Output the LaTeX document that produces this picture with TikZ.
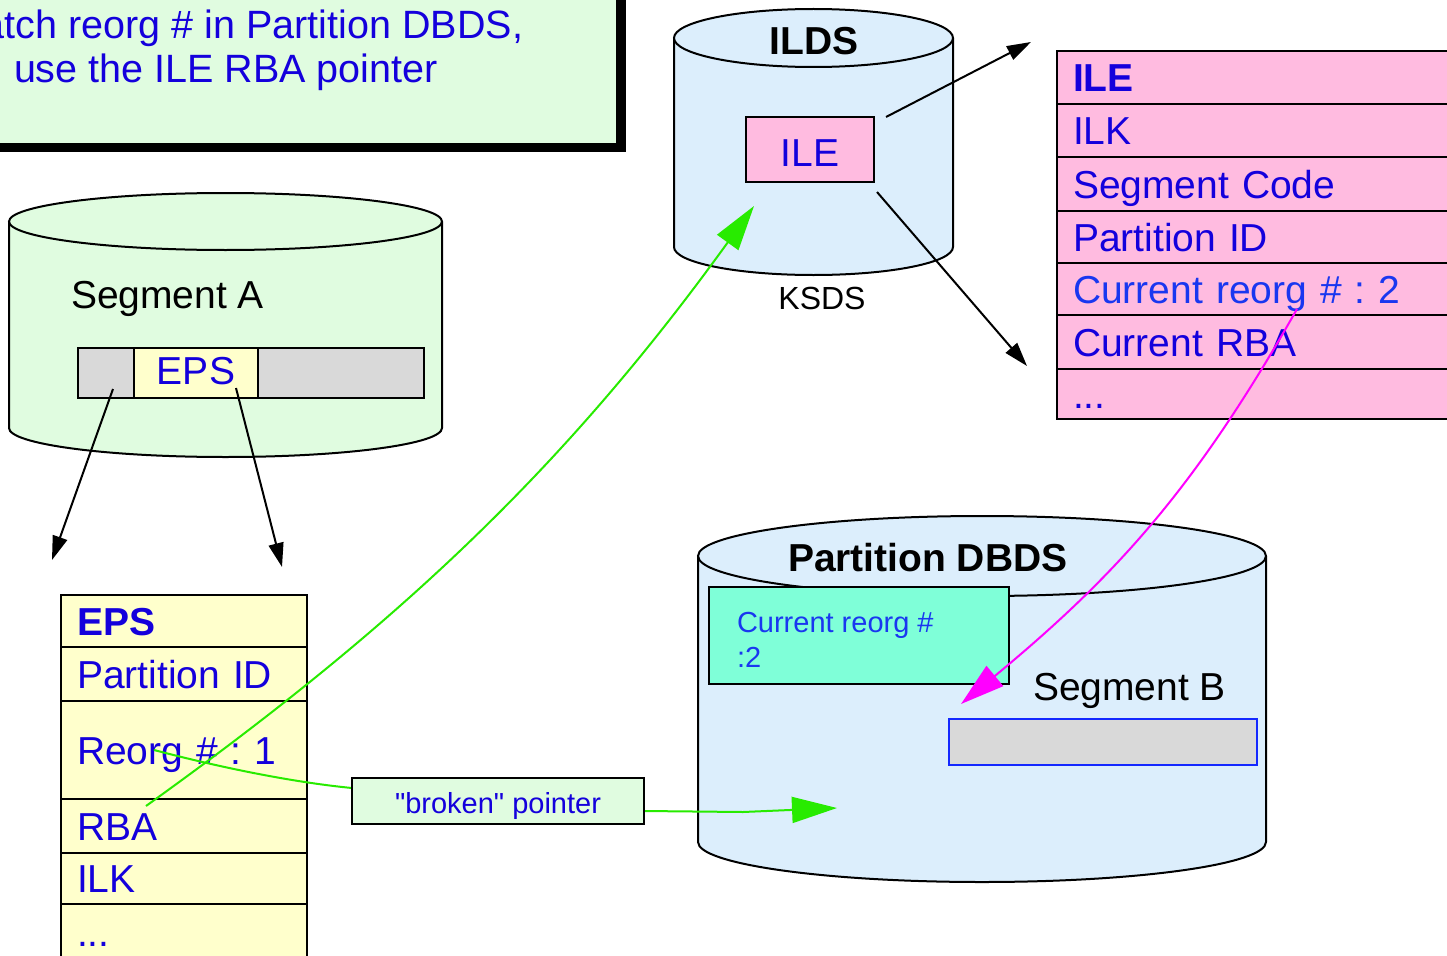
\documentclass[tikz,border=0pt]{standalone}
\usepackage{fontspec}
\setmainfont{Liberation Sans}[Ligatures=TeXOff]
\usetikzlibrary{arrows.meta}
\definecolor{lgreen}{RGB}{224,252,224}
\definecolor{lblue}{RGB}{220,238,252}
\definecolor{lpink}{RGB}{255,187,224}
\definecolor{lyellow}{RGB}{255,255,204}
\definecolor{lgray}{RGB}{217,217,217}
\definecolor{aqua}{RGB}{127,255,216}
\definecolor{tblue}{RGB}{20,0,220}
\definecolor{tblue2}{RGB}{25,55,240}
\definecolor{pgreen}{RGB}{40,235,0}
\definecolor{pmag}{RGB}{255,0,255}
\definecolor{bblue}{RGB}{20,40,255}
\newcommand{\myfbig}{\fontsize{39}{44}\selectfont}
\newcommand{\myfnote}{\fontsize{39.5}{44}\selectfont}
\newcommand{\myfsmall}{\fontsize{29}{35}\selectfont}
\newcommand{\myfmid}{\fontsize{32}{36}\selectfont}
\frenchspacing
\begin{document}
\begin{tikzpicture}[x=1pt,y=-1pt,line width=2pt,
  cell/.style={draw=black,line width=2pt,anchor=north west,inner xsep=16pt,inner ysep=0pt,
    text height=28pt,text depth=0pt,align=left,font=\myfbig,text=tblue},
  epsrow/.style={cell,fill=lyellow,text width=214pt},
  ilerow/.style={cell,fill=lpink,text width=382pt},
  blk/.style={draw=black,line width=2pt,-{Triangle[length=24pt,width=15pt]}},
  grn/.style={draw=pgreen,line width=2pt,-{Triangle[length=45pt,width=26pt]}},
  mag/.style={draw=pmag,line width=2pt,-{Triangle[length=44pt,width=26pt]}},
  bartile/.style={draw=black,line width=2pt,minimum height=50pt,inner sep=0pt,fill=lgray},
  plain/.style={font=\myfbig,text=black,inner sep=0pt}]
\useasboundingbox (0,0) rectangle (1447,955);
\clip (0,0) rectangle (1447,955);
\fill[white] (0,0) rectangle (1447,955);

% ---- note box (top left)
\fill[black] (-20,-20) rectangle (626,152);
\node[fill=lgreen,anchor=south east,minimum width=640pt,minimum height=167pt,inner sep=0pt] (note) at (617,144) {};
\node[anchor=base west,font=\myfnote,text=tblue,inner sep=0pt] (notel1) at (-18,39) {atch reorg \# in Partition DBDS,};
\node[anchor=base west,font=\myfnote,text=tblue,inner sep=0pt] (notel2) at (13,83) {use the ILE RBA pointer};

% ---- Segment A cylinder
\fill[lgreen] (9,221.5) -- (9,428) arc[start angle=180,end angle=360,x radius=216.5pt,y radius=29pt] -- (442,221.5) -- cycle;
\draw (9,221.5) -- (9,428) arc[start angle=180,end angle=360,x radius=216.5pt,y radius=29pt] -- (442,221.5);
\filldraw[fill=lgreen] (225.5,221.5) ellipse[x radius=216.5pt,y radius=28.5pt];
\node[plain,anchor=base west] (sega) at (70,308) {Segment A};
\node[bartile,minimum width=56pt] (bar1) at (106,373) {};
\node[bartile,minimum width=124pt,fill=lyellow,font=\myfbig,text=tblue,text height=22pt,text depth=0pt] (bar2) at (196,373) {EPS};
\node[bartile,minimum width=166pt] (bar3) at (341,373) {};

% ---- ILDS cylinder
\fill[lblue] (674,38) -- (674,247) arc[start angle=180,end angle=360,x radius=139.5pt,y radius=28pt] -- (953,38) -- cycle;
\draw (674,38) -- (674,247) arc[start angle=180,end angle=360,x radius=139.5pt,y radius=28pt] -- (953,38);
\filldraw[fill=lblue] (813.5,38) ellipse[x radius=139.5pt,y radius=29pt];
\node[plain,anchor=base,font=\myfbig\bfseries] (ilds) at (814,55) {ILDS};
\node[draw=black,fill=lpink,minimum width=128pt,minimum height=65pt,inner sep=0pt,font=\myfbig,text=tblue,text height=33pt,text depth=0pt] (ilebox) at (810,149.5) {ILE};
\node[plain,anchor=base,font=\myfmid] (ksds) at (822,309) {KSDS};

% ---- ILE table
\node[ilerow,minimum height=53pt] (i1) at (1056,50) {\bfseries ILE};
\node[ilerow,minimum height=53pt] (i2) at (1056,103) {ILK};
\node[ilerow,minimum height=54pt] (i3) at (1056,156) {Segment Code};
\node[ilerow,minimum height=52pt] (i4) at (1056,210) {Partition ID};
\node[ilerow,minimum height=52pt,text=tblue2] (i5) at (1056,262) {Current reorg \# : 2};
\node[ilerow,minimum height=54pt] (i6) at (1056,314) {Current RBA};
\node[ilerow,minimum height=50pt] (i7) at (1056,368) {...};

% ---- EPS table
\node[epsrow,minimum height=52pt] (e1) at (60,594) {\bfseries EPS};
\node[epsrow,minimum height=54pt] (e2) at (60,646) {Partition ID};
\node[epsrow,minimum height=98pt] (e3) at (60,700) {Reorg \# : 1};
\node[epsrow,minimum height=54pt] (e4) at (60,798) {RBA};
\node[epsrow,minimum height=51pt] (e5) at (60,852) {ILK};
\node[epsrow,minimum height=57pt] (e6) at (60,903) {...};

% ---- Partition DBDS cylinder
\fill[lblue] (698,556) -- (698,842) arc[start angle=180,end angle=360,x radius=284pt,y radius=40pt] -- (1266,556) -- cycle;
\draw (698,556) -- (698,842) arc[start angle=180,end angle=360,x radius=284pt,y radius=40pt] -- (1266,556);
\filldraw[fill=lblue] (982,556) ellipse[x radius=284pt,y radius=40pt];
\node[plain,anchor=base west,font=\myfbig\bfseries] (pdbds) at (787,571) {Partition DBDS};
\node[draw=black,fill=aqua,anchor=north west,minimum width=300pt,minimum height=97pt,inner sep=0pt] (curbox) at (708,586) {};
\node[anchor=base west,font=\myfsmall,text=tblue2,inner sep=0pt] (curl1) at (736,632) {Current reorg \#};
\node[anchor=base west,font=\myfsmall,text=tblue2,inner sep=0pt] (curl2) at (736,667) {:2};
\node[plain,anchor=base west] (segb) at (1032,700) {Segment B};
\node[draw=bblue,fill=lgray,anchor=north west,minimum width=308pt,minimum height=46pt,inner sep=0pt] (segbbar) at (948,718) {};

% ---- connector end points
\coordinate (a1s) at (113,389); \coordinate (a1e) at (52,560);
\coordinate (a2s) at (236,388); \coordinate (a2e) at (282,567);
\coordinate (a3s) at (886,117); \coordinate (a3e) at (1031,42);
\coordinate (a4s) at (877,192); \coordinate (a4e) at (1027,366);
\coordinate (g1s) at (146,806); \coordinate (g1e) at (754,206);
\coordinate (g2s) at (154,750); \coordinate (g2e) at (837,808);
\coordinate (m1s) at (1297,309); \coordinate (m1e) at (961,704);

% ---- connectors
\draw[blk] (a1s) -- (a1e);
\draw[blk] (a2s) -- (a2e);
\draw[blk] (a3s) -- (a3e);
\draw[blk] (a4s) -- (a4e);
\draw[grn] (g1s) .. controls (391.5,630) and (561.5,472.8) .. (g1e);
\draw[mag] (m1s) .. controls (1196,487) and (1118,574) .. (m1e);
\draw[grn] (g2s) .. controls (230,770) and (300,783) .. (352,788) -- (644,811) -- (743,812) -- (g2e);

% ---- broken pointer label
\node[draw=black,fill=lgreen,minimum width=292pt,minimum height=46pt,inner sep=0pt,font=\myfsmall,text=tblue,text height=24pt,text depth=0pt] (bp) at (498,801) {"broken" pointer};
\end{tikzpicture}
\end{document}
